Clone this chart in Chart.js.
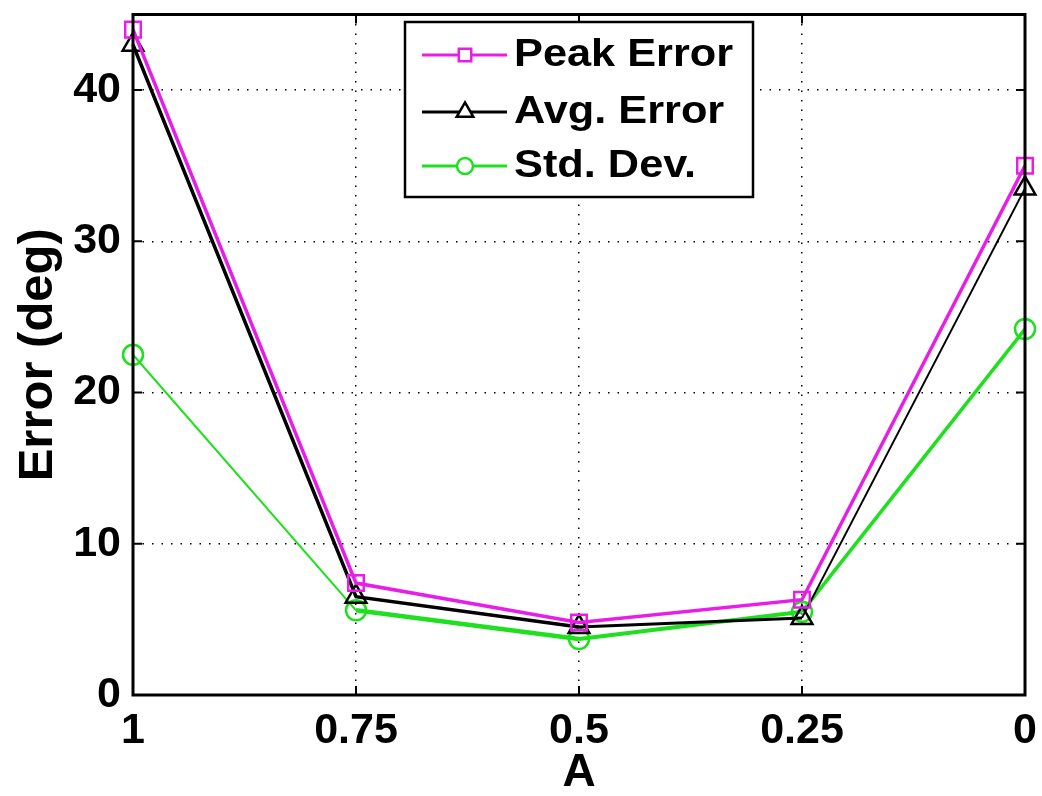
<!DOCTYPE html>
<html>
<head>
<meta charset="utf-8">
<script src="https://cdn.jsdelivr.net/npm/chart.js@4.4.1/dist/chart.umd.min.js"></script>
<style>
  html, body { margin: 0; padding: 0; background: #fff; }
  #wrap { width: 1042px; height: 796px; position: relative; }
</style>
</head>
<body>
<div id="wrap"><canvas id="c"></canvas></div>
<script>
// valores
var categories = ["1", "0.75", "0.5", "0.25", "0"];
var peakError = [44.0, 7.4, 4.8, 6.3, 35.0];
var avgError = [43.0, 6.5, 4.5, 5.1, 33.5];
var stdDev = [22.5, 5.6, 3.7, 5.5, 24.2];
var yTicks = [0, 10, 20, 30, 40];
var yMax = 45;

var FONT = "'Liberation Sans', Arial, sans-serif";
var MAGENTA = "#e81ee8";
var GREEN = "#1ee01e";

// moldura e marcas internas estilo MATLAB
var boxPlugin = {
  id: "matlabBox",
  afterDraw: function (chart) {
    var ctx = chart.ctx;
    var a = chart.chartArea;
    var xs = chart.scales.x, ys = chart.scales.y;
    var tl = 9;
    ctx.save();
    ctx.strokeStyle = "#000";
    ctx.lineWidth = 3;
    ctx.setLineDash([]);
    ctx.strokeRect(a.left, a.top, a.right - a.left, a.bottom - a.top);
    ctx.lineWidth = 2;
    ctx.beginPath();
    xs.ticks.forEach(function (t, i) {
      var x = xs.getPixelForTick(i);
      ctx.moveTo(x, a.bottom); ctx.lineTo(x, a.bottom - tl);
      ctx.moveTo(x, a.top); ctx.lineTo(x, a.top + tl);
    });
    ys.ticks.forEach(function (t, i) {
      var y = ys.getPixelForTick(i);
      ctx.moveTo(a.left, y); ctx.lineTo(a.left + tl, y);
      ctx.moveTo(a.right, y); ctx.lineTo(a.right - tl, y);
    });
    ctx.stroke();
    ctx.restore();
  }
};

// legenda com caixa
var legendPlugin = {
  id: "boxLegend",
  afterDraw: function (chart) {
    var ctx = chart.ctx;
    var bx = 405, by = 22, bw = 348, bh = 175;
    var rowY = [55, 112, 166];
    ctx.save();
    ctx.fillStyle = "#fff";
    ctx.fillRect(bx, by, bw, bh);
    ctx.strokeStyle = "#000";
    ctx.lineWidth = 2.5;
    ctx.strokeRect(bx, by, bw, bh);
    chart.data.datasets.forEach(function (ds, i) {
      var y = rowY[i];
      ctx.strokeStyle = ds.borderColor;
      ctx.lineWidth = 3;
      ctx.beginPath();
      ctx.moveTo(422, y); ctx.lineTo(507, y);
      ctx.stroke();
      ctx.fillStyle = "#fff";
      ctx.strokeStyle = ds.borderColor;
      ctx.lineWidth = 2.5;
      Chart.helpers.drawPoint(ctx, {
        pointStyle: ds.pointStyle, radius: ds.pointRadius * 0.8, rotation: 0, borderWidth: 2.5
      }, 465, y);
      ctx.save();
      ctx.translate(514, y + 1);
      ctx.scale(1.14, 1);
      ctx.fillStyle = "#000";
      ctx.font = "bold 38px " + FONT;
      ctx.textBaseline = "middle";
      ctx.textAlign = "left";
      ctx.fillText(ds.label, 0, 0);
      ctx.restore();
    });
    ctx.restore();
  }
};

function segWidth(widths) {
  return function (c) { return widths[c.p0DataIndex]; };
}

new Chart(document.getElementById("c"), {
  type: "line",
  data: {
    labels: categories,
    datasets: [
      {
        label: "Peak Error",
        data: peakError,
        borderColor: MAGENTA,
        borderWidth: 3.5,
        pointStyle: "rect",
        pointRadius: 11,
        pointBorderWidth: 2.5,
        pointBorderColor: MAGENTA,
        pointBackgroundColor: "rgba(0,0,0,0)"
      },
      {
        label: "Avg. Error",
        data: avgError,
        borderColor: "#000",
        borderWidth: 3,
        segment: { borderWidth: segWidth([3.5, 3.5, 3, 2]) },
        pointStyle: "triangle",
        pointRadius: 12,
        pointBorderWidth: 2.5,
        pointBorderColor: "#000",
        pointBackgroundColor: "rgba(0,0,0,0)"
      },
      {
        label: "Std. Dev.",
        data: stdDev,
        borderColor: GREEN,
        borderWidth: 4,
        segment: { borderWidth: segWidth([2, 4.5, 4, 3.5]) },
        pointStyle: "circle",
        pointRadius: 10,
        pointBorderWidth: 2.5,
        pointBorderColor: GREEN,
        pointBackgroundColor: "rgba(0,0,0,0)"
      }
    ]
  },
  options: {
    responsive: true,
    maintainAspectRatio: false,
    animation: false,
    layout: { padding: { top: 9, right: 17, left: 0, bottom: 0 } },
    plugins: { legend: { display: false }, tooltip: { enabled: false } },
    elements: { line: { tension: 0 } },
    scales: {
      x: {
        type: "category",
        offset: false,
        grid: {
          drawTicks: false,
          lineWidth: 1.5,
          color: function (c) {
            return c.index === 0 || c.index === categories.length - 1 ? "rgba(0,0,0,0)" : "#000";
          }
        },
        border: { display: false, dash: [1.5, 8] },
        ticks: {
          color: "#000",
          padding: 10,
          maxRotation: 0,
          font: { family: FONT, size: 43, weight: "bold" }
        },
        title: {
          display: true,
          text: "A",
          color: "#000",
          padding: { top: 0, bottom: 0 },
          font: { family: FONT, size: 46, weight: "bold", lineHeight: 1 }
        },
        afterFit: function (s) {
          s.height = 101;
          s.paddingLeft = 0;
          s.paddingRight = 0;
        }
      },
      y: {
        min: 0,
        max: yMax,
        afterBuildTicks: function (s) {
          s.ticks = yTicks.map(function (v) { return { value: v }; });
        },
        grid: {
          drawTicks: false,
          lineWidth: 1.5,
          color: function (c) {
            return c.tick && c.tick.value === 0 ? "rgba(0,0,0,0)" : "#000";
          }
        },
        border: { display: false, dash: [1.5, 8] },
        ticks: {
          color: "#000",
          padding: 12,
          font: { family: FONT, size: 43, weight: "bold" }
        },
        title: {
          display: true,
          text: "Error (deg)",
          color: "#000",
          padding: { top: 14, bottom: 0 },
          font: { family: FONT, size: 49, weight: "bold", lineHeight: 1 }
        },
        afterFit: function (s) {
          s.width = 133;
          s.paddingTop = 0;
          s.paddingBottom = 0;
        }
      }
    }
  },
  plugins: [boxPlugin, legendPlugin]
});
</script>
</body>
</html>
